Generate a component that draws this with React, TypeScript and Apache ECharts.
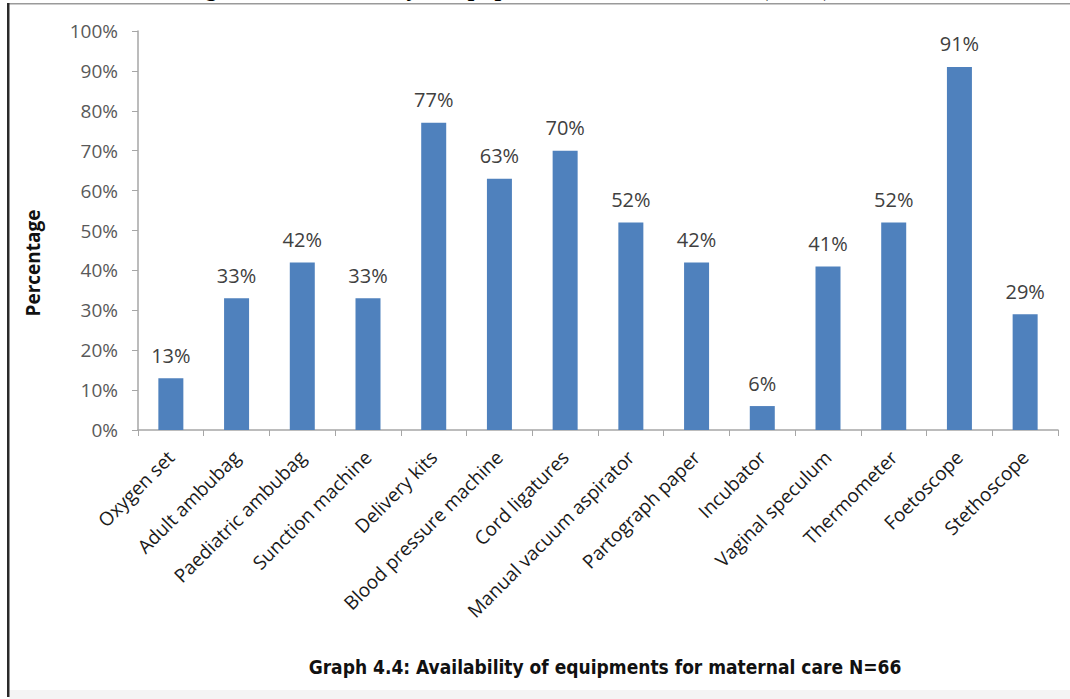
import React, { useEffect, useRef } from "react";
import * as echarts from "echarts";

const categories = [
  "Oxygen set",
  "Adult ambubag",
  "Paediatric ambubag",
  "Sunction machine",
  "Delivery kits",
  "Blood pressure machine",
  "Cord ligatures",
  "Manual vacuum aspirator",
  "Partograph paper",
  "Incubator",
  "Vaginal speculum",
  "Thermometer",
  "Foetoscope",
  "Stethoscope",
];
const values = [13, 33, 42, 33, 77, 63, 70, 52, 42, 6, 41, 52, 91, 29];
const yTicks = [0, 10, 20, 30, 40, 50, 60, 70, 80, 90, 100];

const topTitle = "Figure 4.4: Availability of equipments for maternal care (N=66)";
const footerTitle = "Graph 4.4: Availability of equipments for maternal care N=66";
const yAxisTitle = "Percentage";

export default function App() {
  const ref = useRef<HTMLDivElement>(null);
  useEffect(() => {
    document.body.style.margin = "0";
    if (!ref.current) return;
    const chart = echarts.init(ref.current, null, { renderer: "svg" });
    chart.setOption({
      animation: false,
      backgroundColor: "#ffffff",
      grid: { left: 138, right: 12, top: 31, bottom: 269, containLabel: false },
      xAxis: {
        type: "category",
        data: categories,
        axisLine: { lineStyle: { color: "#a6a6a6", width: 1.5 } },
        axisTick: { show: true, length: 6, lineStyle: { color: "#a6a6a6" } },
        axisLabel: {
          interval: 0,
          rotate: 45,
          margin: 24,
          fontFamily: "Open Sans",
          fontSize: 19,
          color: "#1a1a1a",
        },
      },
      yAxis: {
        type: "value",
        min: 0,
        max: 100,
        interval: 10,
        splitLine: { show: false },
        axisLine: { show: true, lineStyle: { color: "#a6a6a6", width: 1.5 } },
        axisTick: { show: true, inside: false, length: 6, lineStyle: { color: "#a6a6a6" } },
        axisLabel: {
          margin: 20,
          fontFamily: "Open Sans",
          fontSize: 19,
          color: "#595959",
          formatter: (v: number) => (yTicks.includes(v) ? v + "%" : ""),
        },
      },
      series: [
        {
          type: "bar",
          data: values,
          barWidth: 25,
          itemStyle: { color: "#4F81BD" },
          label: {
            show: true,
            position: "top",
            distance: 13,
            formatter: "{c}%",
            fontFamily: "Open Sans",
            fontSize: 20,
            color: "#404040",
          },
        },
      ],
      graphic: [
        {
          type: "text",
          left: 184,
          top: -24,
          style: {
            text: topTitle,
            font: "bold 24px 'Liberation Serif'",
            fill: "#000",
          },
          z: 1,
        },
        {
          type: "text",
          x: 33,
          y: 263,
          rotation: Math.PI / 2,
          style: {
            text: yAxisTitle,
            font: "bold 19px 'Open Sans'",
            fill: "#111",
            align: "center",
            verticalAlign: "middle",
          },
        },
        {
          type: "rect",
          shape: { x: 7, y: 3, width: 1063, height: 1.5 },
          style: { fill: "#9a9a9a" },
          z: 5,
        },
        {
          type: "rect",
          shape: { x: 7, y: 3, width: 2.5, height: 694 },
          style: { fill: "#2a2a2a" },
          z: 5,
        },
        {
          type: "rect",
          shape: { x: 9.5, y: 690, width: 1061, height: 9 },
          style: { fill: "#f4f4f4" },
          z: 0,
        },
        {
          type: "text",
          x: 605,
          y: 667,
          style: {
            text: footerTitle,
            font: "bold 19px 'Liberation Sans Narrow', 'DejaVu Sans Condensed', sans-serif",
            fill: "#111",
            align: "center",
            verticalAlign: "middle",
          },
        },
      ],
    });
    return () => chart.dispose();
  }, []);
  return <div ref={ref} style={{ width: 1070, height: 699 }} />;
}
